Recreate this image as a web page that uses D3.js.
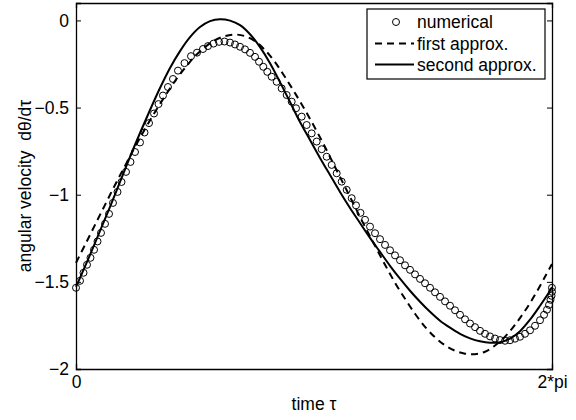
<!DOCTYPE html>
<html>
<head>
<meta charset="utf-8">
<script src="https://cdn.jsdelivr.net/npm/d3@7"></script>
<style>
  body { margin: 0; background: #fff; }
  svg text { font-family: "Liberation Sans", Arial, sans-serif; fill: #000; }
</style>
</head>
<body>
<svg id="svg" width="576" height="420"></svg>
<script>
// numerical solution (circles)
var numTau = [0, 0.053, 0.099, 0.145, 0.191, 0.238, 0.284, 0.330, 0.383, 0.436, 0.488, 0.548, 0.601, 0.660, 0.719, 0.779, 0.845, 0.904, 0.964, 1.030,
  1.089, 1.148, 1.214, 1.280, 1.346, 1.432, 1.518, 1.597, 1.676, 1.742, 1.815, 1.888, 1.960, 2.033, 2.099, 2.165, 2.231, 2.297, 2.363, 2.416,
  2.472, 2.525, 2.583, 2.649, 2.715, 2.781, 2.847, 2.904, 2.979, 3.045, 3.111, 3.177, 3.243, 3.309, 3.375, 3.441, 3.507, 3.573, 3.639, 3.696,
  3.755, 3.815, 3.881, 3.947, 4.013, 4.079, 4.145, 4.211, 4.277, 4.343, 4.409, 4.475, 4.541, 4.607, 4.673, 4.739, 4.805, 4.871, 4.937, 5.003,
  5.069, 5.135, 5.201, 5.267, 5.333, 5.399, 5.465, 5.531, 5.597, 5.663, 5.729, 5.795, 5.861, 5.927, 5.993, 6.059, 6.125, 6.178, 6.217, 6.244,
  6.263, 6.277, 6.283, 6.283];
var numVel = [-1.534, -1.494, -1.448, -1.402, -1.362, -1.316, -1.268, -1.219, -1.167, -1.110, -1.047, -0.984, -0.927, -0.869, -0.812, -0.755, -0.700, -0.643, -0.589, -0.534,
  -0.480, -0.431, -0.382, -0.336, -0.288, -0.245, -0.205, -0.185, -0.164, -0.147, -0.133, -0.123, -0.121, -0.127, -0.138, -0.151, -0.166, -0.186, -0.209, -0.237,
  -0.266, -0.295, -0.323, -0.352, -0.390, -0.428, -0.466, -0.504, -0.552, -0.600, -0.648, -0.695, -0.739, -0.782, -0.829, -0.877, -0.925, -0.972, -1.020, -1.061,
  -1.104, -1.144, -1.183, -1.221, -1.255, -1.288, -1.319, -1.348, -1.376, -1.405, -1.431, -1.457, -1.483, -1.508, -1.534, -1.560, -1.586, -1.612, -1.637, -1.663,
  -1.689, -1.715, -1.739, -1.760, -1.781, -1.798, -1.813, -1.825, -1.834, -1.838, -1.835, -1.826, -1.815, -1.798, -1.778, -1.752, -1.720, -1.689, -1.660, -1.632,
  -1.603, -1.580, -1.557, -1.534];

// first approximation (dashed)
var firstTau = [0, 0.119, 0.251, 0.383, 0.515, 0.647, 0.779, 0.911, 1.043, 1.175, 1.307, 1.439, 1.571, 1.703, 1.835, 1.967, 2.099, 2.231, 2.363, 2.495,
  2.627, 2.759, 2.891, 3.023, 3.155, 3.287, 3.419, 3.551, 3.683, 3.815, 3.947, 4.079, 4.211, 4.343, 4.475, 4.607, 4.739, 4.871, 5.003, 5.135,
  5.267, 5.399, 5.531, 5.663, 5.795, 5.927, 6.059, 6.191, 6.283];
var firstVel = [-1.391, -1.288, -1.173, -1.058, -0.944, -0.835, -0.726, -0.623, -0.525, -0.434, -0.348, -0.273, -0.205, -0.153, -0.113, -0.090, -0.081, -0.090, -0.119, -0.170,
  -0.239, -0.325, -0.417, -0.514, -0.617, -0.726, -0.841, -0.955, -1.070, -1.184, -1.293, -1.402, -1.505, -1.597, -1.683, -1.758, -1.818, -1.864, -1.895, -1.912,
  -1.915, -1.901, -1.865, -1.815, -1.746, -1.666, -1.574, -1.471, -1.397];

// second approximation (solid)
var secondTau = [0, 0.053, 0.185, 0.317, 0.449, 0.581, 0.713, 0.845, 0.977, 1.109, 1.241, 1.373, 1.505, 1.637, 1.769, 1.901, 2.033, 2.165, 2.297, 2.429,
  2.561, 2.693, 2.825, 2.957, 3.089, 3.221, 3.353, 3.485, 3.617, 3.749, 3.881, 4.013, 4.145, 4.277, 4.409, 4.541, 4.673, 4.805, 4.937, 5.069,
  5.201, 5.333, 5.465, 5.597, 5.729, 5.861, 5.993, 6.125, 6.257, 6.283];
var secondVel = [-1.528, -1.477, -1.345, -1.208, -1.070, -0.927, -0.783, -0.646, -0.514, -0.388, -0.273, -0.176, -0.096, -0.038, -0.004, 0.007, -0.001, -0.027, -0.079, -0.153,
  -0.245, -0.354, -0.468, -0.583, -0.686, -0.789, -0.887, -0.984, -1.076, -1.162, -1.248, -1.328, -1.408, -1.482, -1.551, -1.614, -1.672, -1.723, -1.763, -1.798,
  -1.824, -1.841, -1.849, -1.846, -1.826, -1.783, -1.717, -1.637, -1.551, -1.531];

var yTicks = [0, -0.5, -1, -1.5, -2];
var xTicks = [0, 2 * Math.PI];
var xTickLabels = ["0", "2*pi"];
var legendNames = ["numerical", "first approx.", "second approx."];

var svg = d3.select("#svg");
var pLeft = 76, pRight = 552, pTop = 3, pBottom = 369;

var x = d3.scaleLinear().domain([0, 2 * Math.PI]).range([pLeft, pRight]);
var y = d3.scaleLinear().domain([-2, 0.1]).range([pBottom, pTop]);

function fmt(v){
	return v === 0 ? "0" : String(v).replace("-", "\u2212");
}

// axes, ticks inward like matlab
var tickLen = 5;
var ax = svg.append("g");
ax.append("g").attr("transform", "translate(" + pLeft + ",0)")
	.call(d3.axisLeft(y).tickValues(yTicks).tickSize(-tickLen).tickPadding(7).tickFormat(fmt));
ax.append("g").attr("transform", "translate(" + pRight + ",0)")
	.call(d3.axisRight(y).tickValues(yTicks).tickSize(-tickLen).tickFormat(""));
ax.append("g").attr("transform", "translate(0," + pBottom + ")")
	.call(d3.axisBottom(x).tickValues(xTicks).tickSize(-tickLen).tickPadding(7).tickFormat(function(d, i){ return xTickLabels[i]; }));
ax.append("g").attr("transform", "translate(0," + pTop + ")")
	.call(d3.axisTop(x).tickValues(xTicks).tickSize(-tickLen).tickFormat(""));
ax.selectAll(".domain").attr("stroke", "#000").attr("stroke-width", 1.3);
ax.selectAll(".tick line").attr("stroke", "#000");
ax.selectAll(".tick text").style("font-size", "17.5px");

// curves
var line = d3.line().x(function(d){ return x(d[0]); }).y(function(d){ return y(d[1]); }).curve(d3.curveCatmullRom);
var firstData = d3.zip(firstTau, firstVel);
var secondData = d3.zip(secondTau, secondVel);
var numData = d3.zip(numTau, numVel);

svg.append("path").attr("d", line(firstData)).attr("fill", "none").attr("stroke", "#000")
	.attr("stroke-width", 2).attr("stroke-dasharray", "7,5");
svg.append("path").attr("d", line(secondData)).attr("fill", "none").attr("stroke", "#000")
	.attr("stroke-width", 2);
svg.append("g").selectAll("circle").data(numData).enter().append("circle")
	.attr("cx", function(d){ return x(d[0]); })
	.attr("cy", function(d){ return y(d[1]); })
	.attr("r", 3.5).attr("fill", "none").attr("stroke", "#000").attr("stroke-width", 1);

// labels
svg.append("text").attr("x", (pLeft + pRight) / 2).attr("y", 410).attr("text-anchor", "middle")
	.style("font-size", "17.5px").text("time \u03c4");
svg.append("text").attr("transform", "translate(31," + ((pTop + pBottom) / 2) + ") rotate(-90)")
	.attr("text-anchor", "middle").style("font-size", "17.5px").style("white-space", "pre")
	.text("angular velocity  d\u03b8/d\u03c4");

// legend
var lg = svg.append("g");
lg.append("rect").attr("x", 367).attr("y", 9).attr("width", 178).attr("height", 70)
	.attr("fill", "#fff").attr("stroke", "#000").attr("stroke-width", 1.2);
var rows = [22, 43.5, 64.5];
lg.append("circle").attr("cx", 396).attr("cy", rows[0]).attr("r", 3.5).attr("fill", "none").attr("stroke", "#000");
lg.append("line").attr("x1", 375).attr("x2", 414).attr("y1", rows[1]).attr("y2", rows[1])
	.attr("stroke", "#000").attr("stroke-width", 2).attr("stroke-dasharray", "7,5");
lg.append("line").attr("x1", 375).attr("x2", 414).attr("y1", rows[2]).attr("y2", rows[2])
	.attr("stroke", "#000").attr("stroke-width", 2);
lg.selectAll("text.lab").data(legendNames).enter().append("text").attr("class", "lab")
	.attr("x", 417).attr("y", function(d, i){ return rows[i]; }).attr("dy", "0.35em")
	.style("font-size", "17.5px").text(function(d){ return d; });
</script>
</body>
</html>
